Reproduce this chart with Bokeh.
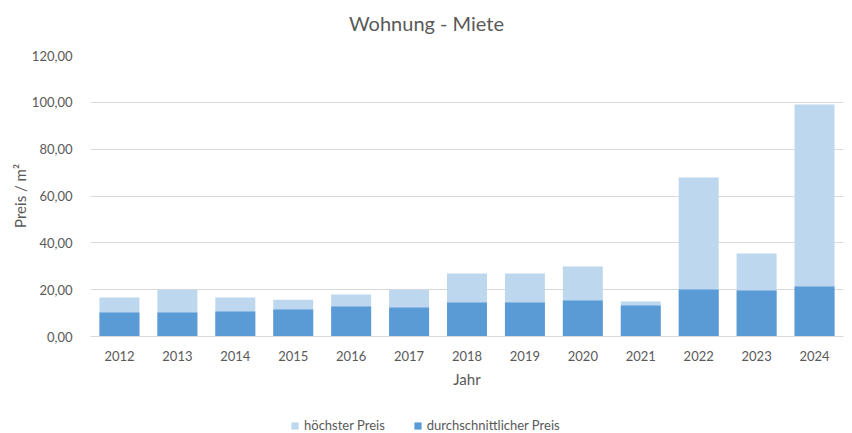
from bokeh.plotting import figure
from bokeh.layouts import column
from bokeh.models import ColumnDataSource, Legend, LegendItem, CustomJSTickFormatter, Range1d, FactorRange, Label
from bokeh.embed import file_html
from bokeh.resources import INLINE

years = ["2012", "2013", "2014", "2015", "2016", "2017", "2018", "2019", "2020", "2021", "2022", "2023", "2024"]
hoechster = [16.7, 20.0, 16.7, 15.7, 17.9, 20.0, 26.9, 26.9, 29.9, 14.9, 67.9, 35.4, 99.1]
durchschnitt = [10.3, 10.3, 10.7, 11.5, 12.8, 12.4, 14.5, 14.5, 15.4, 13.2, 20.1, 19.6, 21.4]
series_names = ["höchster Preis", "durchschnittlicher Preis"]
title_text = "Wohnung - Miete"

FONT = "Lato"
GREY = "#595959"
LIGHT = "#BDD7EE"
DARK = "#5B9BD5"

src = ColumnDataSource(dict(year=years, hi=hoechster, avg=durchschnitt))

# title strip (its frame is aligned with the chart frame by the column layout)
tf = figure(width=852, height=40, x_range=Range1d(0, 1), y_range=Range1d(0, 1),
            output_backend="svg", toolbar_location=None,
            min_border_left=0, min_border_right=0, min_border_top=0, min_border_bottom=0)
tf.axis.visible = False
tf.grid.visible = False
tf.outline_line_color = None
tf.add_layout(Label(x=336, y=18, x_units="screen", y_units="screen", text=title_text,
                    text_align="center", text_baseline="middle", text_font=FONT,
                    text_font_size="20px", text_color=GREY))

p = figure(width=852, height=358, x_range=FactorRange(*years), y_range=Range1d(0, 120),
           output_backend="svg", toolbar_location=None,
           min_border_left=90, min_border_right=9, min_border_top=15, min_border_bottom=62)

p.vbar(x="year", top="hi", width=0.69, source=src, color=LIGHT, line_color=None)
p.vbar(x="year", top="avg", width=0.69, source=src, color=DARK, line_color=None)

p.outline_line_color = None
p.xgrid.grid_line_color = None
p.ygrid.grid_line_color = "#D9D9D9"
p.ygrid.grid_line_width = 1

p.yaxis.ticker = [0, 20, 40, 60, 80, 100, 120]
p.yaxis.formatter = CustomJSTickFormatter(code="return tick.toFixed(2).replace('.', ',');")
p.yaxis.axis_line_color = None
p.yaxis.major_tick_line_color = None
p.yaxis.minor_tick_line_color = None
p.yaxis.major_label_standoff = 12
p.yaxis.axis_label = "Preis / m²"
p.yaxis.axis_label_standoff = 0

p.xaxis.axis_line_color = "#D9D9D9"
p.xaxis.major_tick_line_color = None
p.xaxis.minor_tick_line_color = None
p.xaxis.major_label_standoff = 8
p.xaxis.axis_label = "Jahr"
p.xaxis.axis_label_standoff = 6

for ax in (p.xaxis[0], p.yaxis[0]):
    ax.major_label_text_font = FONT
    ax.major_label_text_font_size = "13px"
    ax.major_label_text_color = GREY
    ax.axis_label_text_font = FONT
    ax.axis_label_text_font_size = "15px"
    ax.axis_label_text_font_style = "normal"
    ax.axis_label_text_color = GREY

# legend strip below the chart (bars drawn far outside its visible range, only the legend shows)
lf = figure(width=852, height=35, x_range=FactorRange(*years), y_range=Range1d(500, 501),
            output_backend="svg", toolbar_location=None,
            min_border_left=0, min_border_right=0, min_border_top=0, min_border_bottom=0)
lf.axis.visible = False
lf.grid.visible = False
lf.outline_line_color = None
g1 = lf.vbar(x="year", top="hi", width=0.69, source=src, color=LIGHT, line_color=None)
g2 = lf.vbar(x="year", top="avg", width=0.69, source=src, color=DARK, line_color=None)

legend = Legend(items=[LegendItem(label=series_names[0], renderers=[g1]),
                       LegendItem(label=series_names[1], renderers=[g2])],
                orientation="horizontal", location=(200, 0),
                label_text_font=FONT, label_text_font_size="13px", label_text_color=GREY,
                glyph_width=9, glyph_height=9, spacing=28, label_standoff=5,
                border_line_color=None, background_fill_alpha=0, margin=0, padding=2)
lf.add_layout(legend, "center")

layout = column(tf, p, lf, spacing=0)
open("out.html", "w").write(file_html(layout, INLINE))
